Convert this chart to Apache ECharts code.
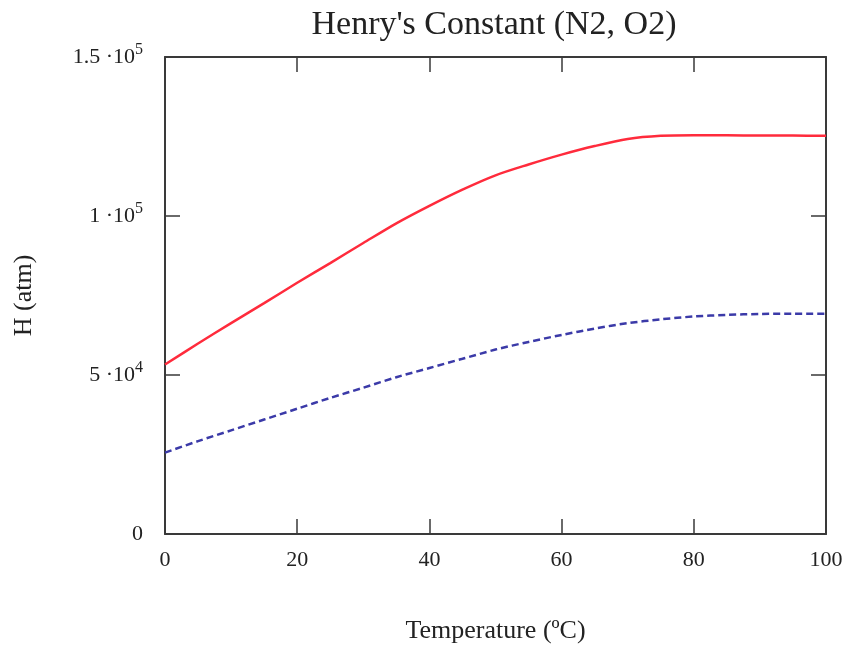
<!DOCTYPE html>
<html><head><meta charset="utf-8">
<script src="https://cdn.jsdelivr.net/npm/echarts@6/dist/echarts.min.js"></script>
<style>html,body{margin:0;padding:0;background:#fff}#c{width:853px;height:649px}</style>
</head><body><div id="c"></div>
<script>
const temps = [0,5,10,15,20,25,30,35,40,45,50,55,60,65,70,75,80,85,90,95,100];
const hN2 = [53300,59900,66300,72600,79000,85200,91500,97700,103200,108300,112800,116200,119300,122000,124200,125200,125400,125400,125300,125300,125200];
const hO2 = [25600,29200,32600,36000,39400,42800,46000,49300,52200,55100,58000,60400,62600,64600,66300,67500,68400,68900,69200,69300,69300];
const yTickLabels = {0:['0',''],50000:['5 ·10','4'],100000:['1 ·10','5'],150000:['1.5 ·10','5']};

const font = 'Liberation Serif';
const chart = echarts.init(document.getElementById('c'));
const axisLine = {show:true, onZero:false, lineStyle:{color:'#3a3a3a', width:2}};
const axisTick = {show:true, inside:true, length:15, lineStyle:{color:'#3a3a3a', width:1.5}};
chart.setOption({
  backgroundColor:'#fff',
  animation:false,
  title:{text:"Henry's Constant (N2, O2)", left:489, textAlign:'center', top:3,
    textStyle:{fontFamily:font, fontSize:34, fontWeight:'normal', color:'#222'}},
  grid:{left:165, right:27, top:57, bottom:114},
  xAxis:[{type:'value', min:0, max:100, interval:20, position:'bottom',
    name:'Temperature (ºC)', nameLocation:'middle', nameGap:84,
    nameTextStyle:{fontFamily:font, fontSize:26, color:'#222'},
    axisLine, axisTick, splitLine:{show:false},
    axisLabel:{fontFamily:font, fontSize:22, color:'#222', margin:15}},
   {type:'value', min:0, max:100, interval:20, position:'top',
    axisLine, axisTick, splitLine:{show:false}, axisLabel:{show:false}}],
  yAxis:[{type:'value', min:0, max:150000, interval:50000, position:'left',
    name:'H (atm)', nameLocation:'middle', nameGap:128, nameRotate:90,
    nameTextStyle:{fontFamily:font, fontSize:26, color:'#222'},
    axisLine, axisTick, splitLine:{show:false},
    axisLabel:{margin:22, formatter:v=>{const t=yTickLabels[v]; if(!t) return ''; return t[1]?'{b|'+t[0]+'}{s|'+t[1]+'}':'{b|'+t[0]+'}';},
      rich:{b:{fontFamily:font, fontSize:22, color:'#222'}, s:{fontFamily:font, fontSize:16, color:'#222', verticalAlign:'bottom', padding:[0,0,15,0]}}}},
   {type:'value', min:0, max:150000, interval:50000, position:'right',
    axisLine, axisTick, splitLine:{show:false}, axisLabel:{show:false}}],
  series:[
    {type:'line', name:'N2', data:temps.map((t,i)=>[t,hN2[i]]), smooth:0.3, symbol:'none',
      lineStyle:{color:'#ff2b3c', width:2.5}},
    {type:'line', name:'O2', data:temps.map((t,i)=>[t,hO2[i]]), smooth:0.3, symbol:'none',
      lineStyle:{color:'#3b3aa8', width:2.5, type:[7,4]}}
  ]
});
</script></body></html>
